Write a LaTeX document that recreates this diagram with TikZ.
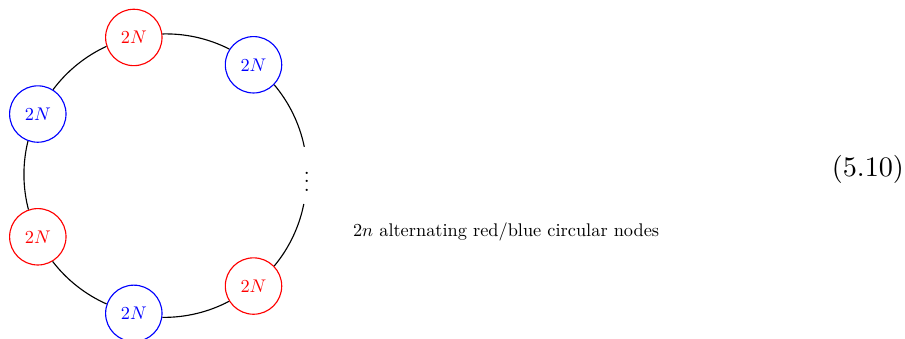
\documentclass[tikz,border=0pt]{standalone}
\usepackage{graphicx}
\usetikzlibrary{calc}
\tikzset{
  ringnode/.style={circle, minimum size=20pt, inner sep=0pt, line width=0.4pt},
  rednode/.style={ringnode, draw=red, text=red},
  bluenode/.style={ringnode, draw=blue, text=blue},
  dotsnode/.style={ringnode, draw=none},
  ringedge/.style={draw=black, line width=0.4pt, bend right=14.24, looseness=0.865},
  plain/.style={inner sep=0pt, text=black}
}
\newcommand{\lbl}{\scalebox{0.65}{$2N$}}
\begin{document}
\begin{tikzpicture}[x=0.3546pt,y=0.3546pt]
\clip (0,0) rectangle (905,338);
\coordinate (c) at (165.3,162.6);
\node[dotsnode] (d)  at ($(c)+(0:141.5)$)      {\scalebox{0.75}{$\vdots$}};
\node[bluenode] (b1) at ($(c)+(51.43:141.5)$)  {\lbl};
\node[rednode]  (r1) at ($(c)+(102.86:141.5)$) {\lbl};
\node[bluenode] (b2) at ($(c)+(154.29:141.5)$) {\lbl};
\node[rednode]  (r2) at ($(c)+(205.71:141.5)$) {\lbl};
\node[bluenode] (b3) at ($(c)+(257.14:141.5)$) {\lbl};
\node[rednode]  (r3) at ($(c)+(308.57:141.5)$) {\lbl};
% exit points: node at angle phi meets the ring at border angles phi +/- 95.74
\draw[ringedge] (d.95.74)   to (b1.-44.31);
\draw[ringedge] (b1.147.17) to (r1.7.12);
\draw[ringedge] (r1.198.60) to (b2.58.55);
\draw[ringedge] (b2.250.03) to (r2.109.97);
\draw[ringedge] (r2.301.45) to (b3.161.40);
\draw[ringedge] (b3.352.88) to (r3.212.83);
\draw[ringedge] (r3.404.31) to (d.264.26);
\node[plain, anchor=east] (eq) at (904.5,169) {(5.10)};
\node[plain, anchor=base west] (cap) at (352.5,102) {\scalebox{0.65}{$2n$ alternating red/blue circular nodes}};
\end{tikzpicture}
\end{document}
